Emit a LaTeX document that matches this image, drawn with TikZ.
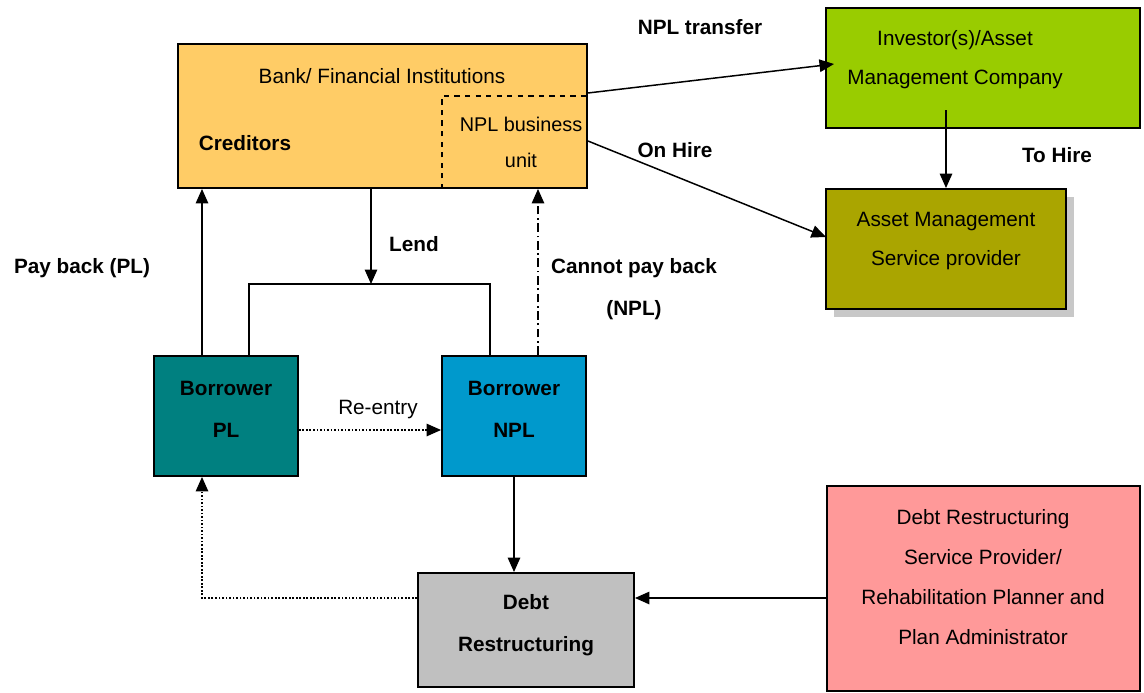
\documentclass[tikz,border=0pt]{standalone}
\usepackage{fontspec}
\setmainfont{Liberation Sans}
\usetikzlibrary{arrows.meta,calc}

\definecolor{bankfill}{HTML}{FFCC66}
\definecolor{invfill}{HTML}{99CC00}
\definecolor{amspfill}{RGB}{170,165,0}
\definecolor{plfill}{HTML}{008080}
\definecolor{nplfill}{HTML}{0099CC}
\definecolor{drfill}{HTML}{C0C0C0}
\definecolor{drspfill}{HTML}{FF9999}
\definecolor{shade}{HTML}{C8C8C8}

\begin{document}
\begin{tikzpicture}[x=0.02cm,y=-0.02cm,
  box/.style={draw=black,line width=1.1pt,inner sep=0pt},
  txt/.style={align=center,inner sep=0pt,font=\fontsize{11.8}{#1}\selectfont},
  txt/.default=22.5pt,
  bold/.style={align=center,inner sep=0pt,font=\fontsize{11.8}{#1}\selectfont\bfseries},
  bold/.default=23.9pt,
  link/.style={line width=0.85pt,-{Triangle[length=2.9mm,width=2.5mm]}}]
\useasboundingbox (0,0) rectangle (1144,693);

% boxes
\node[box,fill=bankfill,minimum width=8.18cm,minimum height=2.88cm] (bank) at (382.5,116) {};
\node[box,fill=invfill,minimum width=6.28cm,minimum height=2.4cm] (inv) at (983,68) {};
\node[fill=shade,minimum width=4.8cm,minimum height=2.4cm,inner sep=0pt] (amspshadow) at (954,257) {};
\node[box,fill=amspfill,minimum width=4.8cm,minimum height=2.4cm] (amsp) at (946,249) {};
\node[box,fill=plfill,minimum width=2.88cm,minimum height=2.4cm] (pl) at (226,416) {};
\node[box,fill=nplfill,minimum width=2.88cm,minimum height=2.4cm] (npl) at (514,416) {};
\node[box,fill=drfill,minimum width=4.32cm,minimum height=2.28cm] (dr) at (526,630) {};
\node[box,fill=drspfill,minimum width=6.26cm,minimum height=4.1cm] (drsp) at (983.5,588.5) {};

% texts in boxes
\node[txt] (banklbl) at (382,76) {Bank/ Financial Institutions};
\node[bold] (credlbl) at (245,143) {Creditors};
\node[txt=20.5pt,font=\fontsize{11.3}{20.5pt}\selectfont] (unitlbl) at (521,142) {NPL business\\unit};
\node[txt=22.2pt] (invlbl) at (955,60) {Investor(s)/Asset\\Management Company};
\node[txt] (amsplbl) at (946,241) {Asset Management\\Service provider};
\node[bold] (pllbl) at (226,409) {Borrower\\PL};
\node[bold] (npllbl) at (514,409) {Borrower\\NPL};
\node[bold] (drlbl) at (526,625) {Debt\\Restructuring};
\node[txt=22.8pt] (drsplbl) at (983,577) {Debt Restructuring\\Service Provider/\\Rehabilitation Planner and\\Plan Administrator};

% NPL business unit
\coordinate (unitcorner) at (442,96);
\draw[dashed,line width=0.85pt] (bank.south -| unitcorner) -- (unitcorner) -- (bank.east |- unitcorner);

% connectors
\coordinate (paybk) at (202,0);
\coordinate (lendx) at (371,284);
\coordinate (splitl) at (249,284);
\coordinate (splitr) at (490,284);
\coordinate (failx) at (538,0);
\coordinate (reenty) at (0,430);
\coordinate (retx) at (202,598);
\coordinate (xfery) at (0,93);
\coordinate (xferend) at (834,64);
\coordinate (hirey) at (0,141);
\coordinate (hireend) at (826,237);
\coordinate (hirestart) at (946,110);

\draw[link] (pl.north -| paybk) -- (bank.south -| paybk);
\draw[link] (bank.south -| lendx) -- (lendx);
\draw[line width=0.85pt] (pl.north -| splitl) -- (splitl) -- (splitr) -- (npl.north -| splitr);
\draw[link,dash pattern=on 5pt off 2pt on 1pt off 2pt] (npl.north -| failx) -- (bank.south -| failx);
\draw[link,dash pattern=on 1pt off 1pt] (pl.east |- reenty) -- (npl.west |- reenty);
\draw[link] (npl.south) -- (npl.south |- dr.north);
\draw[link,dash pattern=on 1pt off 1pt] (dr.west |- retx) -- (retx) -- (pl.south -| retx);
\draw[link] (drsp.west |- retx) -- (dr.east |- retx);
\draw[link] (bank.east |- xfery) -- (xferend);
\draw[link] (bank.east |- hirey) -- (hireend);
\draw[link] (hirestart) -- (amsp.north);

% connector labels
\node[bold] (xferlbl) at (700,27) {NPL transfer};
\node[bold] (onhirelbl) at (675,150) {On Hire};
\node[bold] (tohirelbl) at (1057,155) {To Hire};
\node[bold] (lendlbl) at (414,244) {Lend};
\node[bold] (paylbl) at (82,268) {Pay back (PL)};
\node[bold] (faillbl) at (634,289) {Cannot pay back\\(NPL)};
\node[txt] (reentlbl) at (378,410) {Re-entry};
\end{tikzpicture}
\end{document}
